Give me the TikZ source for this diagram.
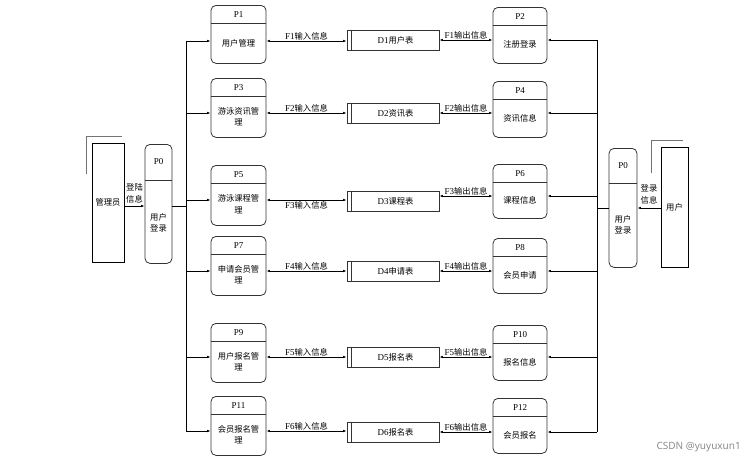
\documentclass[tikz,border=0pt]{standalone}
\usepackage{fontspec}
\setmainfont{Liberation Serif}
\newfontfamily\cjk{Noto Sans CJK SC}
\newfontfamily\wmfont{Noto Sans}
\usetikzlibrary{arrows.meta,calc}
\newcommand\zh[1]{{\cjk\fontsize{8.3}{11}\selectfont #1}}
\tikzset{
  procbox/.style={draw=black!80, line width=0.8pt, rounded corners=5pt, inner sep=0pt},
  storebox/.style={draw=black!80, line width=0.8pt, minimum width=92pt, minimum height=20pt, inner sep=0pt},
  entbox/.style={draw=black, line width=0.8pt, inner sep=0pt},
  divline/.style={draw=black!80, line width=0.8pt},
  shadowline/.style={draw=black!55, line width=1.3pt},
  wire/.style={draw=black, line width=0.7pt},
  arr/.style={wire, -{Latex[length=3.5pt,width=2.6pt]}},
  darr/.style={wire, {Latex[length=3.5pt,width=2.6pt]}-{Latex[length=3.5pt,width=2.6pt]}},
  idtext/.style={font=\fontsize{9}{11.5}\selectfont, inner sep=0pt},
  lbl/.style={font=\fontsize{9}{11}\selectfont, inner sep=1pt},
}
% #1 name, #2 center x, #3 top y, #4 width, #5 height, #6 id, #7 text
\newcommand\mkproc[7]{%
  \node[procbox, minimum width=#4pt, minimum height=#5pt, anchor=north] (#1) at (#2,#3) {};
  \draw[divline] ($(#1.north west)+(0,18)$) -- ($(#1.north east)+(0,18)$);
  \node[idtext] at ($(#1.north)+(0,9.5)$) {#6};
  \node[idtext, align=center] at ($(#1.north)!0.5!(#1.south)+(0,9)$) {#7};
}
% #1 name, #2 center y, #3 text
\newcommand\mkstore[3]{%
  \node[storebox] (#1) at (393,#2) {};
  \draw[divline] ($(#1.north west)+(5,0)$) -- ($(#1.south west)+(5,0)$);
  \node[lbl] at ($(#1.center)+(2.5,0)$) {#3};
}
\begin{document}
\begin{tikzpicture}[x=1pt,y=-1pt]
\useasboundingbox (0,0) rectangle (754,463);

% left processes
\mkproc{p1}{238.5}{5}{55}{58}{P1}{\zh{用户管理}}
\mkproc{p3}{238.5}{78}{55}{59}{P3}{\zh{游泳资讯管}\\\zh{理}}
\mkproc{p5}{238.5}{165}{55}{60}{P5}{\zh{游泳课程管}\\\zh{理}}
\mkproc{p7}{238.5}{236}{55}{59}{P7}{\zh{申请会员管}\\\zh{理}}
\mkproc{p9}{238.5}{323}{55}{59}{P9}{\zh{用户报名管}\\\zh{理}}
\mkproc{p11}{238.5}{396}{55}{59}{P11}{\zh{会员报名管}\\\zh{理}}

% right processes
\mkproc{p2}{520}{7}{54}{56}{P2}{\zh{注册登录}}
\mkproc{p4}{520}{81}{54}{56}{P4}{\zh{资讯信息}}
\mkproc{p6}{520}{164}{54}{54}{P6}{\zh{课程信息}}
\mkproc{p8}{520}{238}{54}{55}{P8}{\zh{会员申请}}
\mkproc{p10}{520}{325}{54}{55}{P10}{\zh{报名信息}}
\mkproc{p12}{520}{398}{54}{55}{P12}{\zh{会员报名}}

% data stores
\mkstore{d1}{40}{D1\zh{用户表}}
\mkstore{d2}{113}{D2\zh{资讯表}}
\mkstore{d3}{201}{D3\zh{课程表}}
\mkstore{d4}{271}{D4\zh{申请表}}
\mkstore{d5}{357}{D5\zh{报名表}}
\mkstore{d6}{432}{D6\zh{报名表}}

% login processes
\node[procbox, minimum width=27pt, minimum height=119pt, anchor=north] (p0l) at (158.5,144) {};
\draw[divline] ($(p0l.north west)+(0,36)$) -- ($(p0l.north east)+(0,36)$);
\node[idtext] at ($(p0l.north)+(0,18)$) {P0};
\node[idtext, align=center] at ($(p0l.north)+(0,79)$) {\zh{用户}\\\zh{登录}};

\node[procbox, minimum width=28pt, minimum height=119pt, anchor=north] (p0r) at (623,148) {};
\draw[divline] ($(p0r.north west)+(0,35)$) -- ($(p0r.north east)+(0,35)$);
\node[idtext] at ($(p0r.north)+(0,17.5)$) {P0};
\node[idtext, align=center] at ($(p0r.north)+(0,77)$) {\zh{用户}\\\zh{登录}};

% external entities
\node[entbox, minimum width=32pt, minimum height=119pt] (adm) at (108,202.5) {\zh{管理员}};
\draw[shadowline] ($(adm.north west)+(-5,31)$) -- ($(adm.north west)+(-5,-6)$) -- ($(adm.north east)+(-2,-6)$);
\node[entbox, minimum width=27pt, minimum height=120pt] (usr) at (674.5,207) {\zh{用户}};
\draw[shadowline] ($(usr.north west)+(-9,26)$) -- ($(usr.north west)+(-9,-6)$) -- ($(usr.north east)+(-5,-6)$);

% bus coordinates
\coordinate (yl1) at (186,41);
\coordinate (yl2) at (186,113);
\coordinate (yl3) at (186,200);
\coordinate (yl4) at (186,271);
\coordinate (yl5) at (186,357);
\coordinate (yl6) at (186,431);
\coordinate (yr1) at (597,40);
\coordinate (yr2) at (597,113);
\coordinate (yr3) at (597,196);
\coordinate (yr4) at (597,271);
\coordinate (yr5) at (597,357);
\coordinate (yr6) at (597,432);
\coordinate (jl) at (186,206);
\coordinate (jr) at (597,208);

% buses
\draw[wire] (yl1) -- (yl6);
\draw[wire] (yr1) -- (yr6);
\draw[wire] (jl -| p0l.east) -- (jl);
\draw[wire] (jr -| p0r.west) -- (jr);

% entity to login
\draw[arr] (adm.east |- jl) -- (p0l.west |- jl);
\node[idtext, align=center] at ($(adm.east |- jl)!0.5!(p0l.west |- jl)+(0,-12.5)$) {\zh{登陆}\\\zh{信息}};
\draw[arr] (usr.west |- jr) -- (p0r.east |- jr);
\node[idtext, align=center] at ($(usr.west |- jr)!0.5!(p0r.east |- jr)+(0,-13.5)$) {\zh{登录}\\\zh{信息}};

% left bus arrows and flows
\foreach \i/\p/\d/\f/\pos in {1/p1/d1/F1/south, 2/p3/d2/F2/south, 3/p5/d3/F3/north, 4/p7/d4/F4/south, 5/p9/d5/F5/south, 6/p11/d6/F6/south}{
  \draw[arr] (yl\i) -- (yl\i -| \p.west);
  \draw[darr] (yl\i -| \p.east) -- (yl\i -| \d.west);
  \node[lbl, anchor=\pos] at ($(yl\i -| \p.east)!0.5!(yl\i -| \d.west)$) {\f\zh{输入信息}};
}
% right bus arrows and flows
\foreach \i/\p/\d/\f in {1/p2/d1/F1, 2/p4/d2/F2, 3/p6/d3/F3, 4/p8/d4/F4, 5/p10/d5/F5, 6/p12/d6/F6}{
  \draw[arr] (yr\i) -- (yr\i -| \p.east);
  \draw[darr] (yr\i -| \d.east) -- (yr\i -| \p.west);
  \node[lbl, anchor=south, inner sep=0.5pt] at ($(yr\i -| \d.east)!0.5!(yr\i -| \p.west)$) {\f\zh{输出信息}};
}

% watermark
\node[text=black!45, font=\wmfont\fontsize{10}{12}\selectfont, anchor=east, inner sep=0pt] (wm) at (741,447) {CSDN @yuyuxun1};
\end{tikzpicture}
\end{document}
